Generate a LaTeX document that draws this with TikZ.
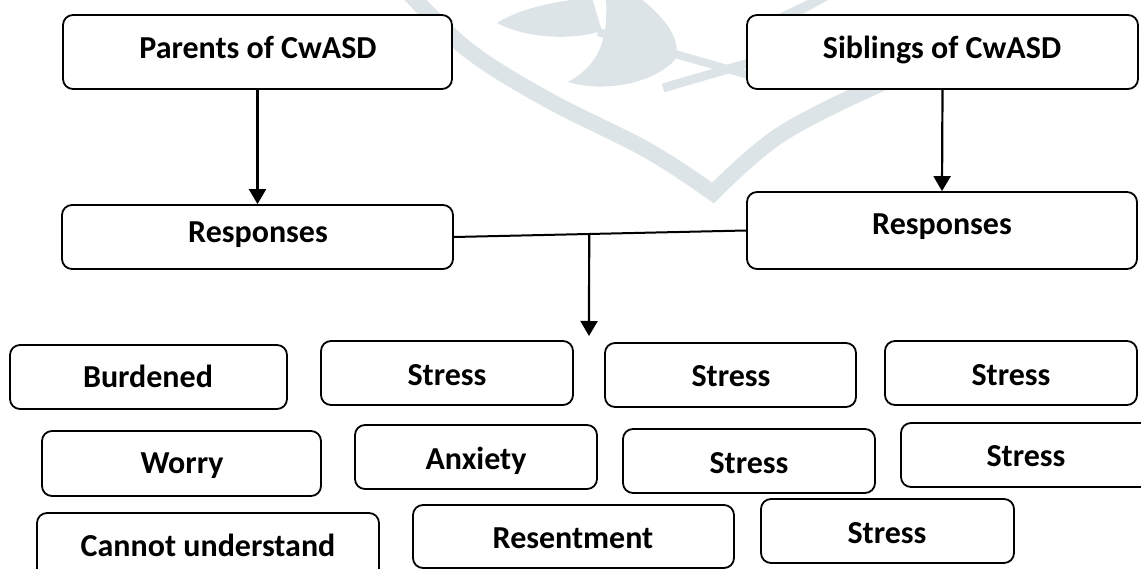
\documentclass[tikz,border=0pt]{standalone}
\usepackage{fontspec}
\setmainfont{Carlito}
\usetikzlibrary{arrows.meta,fit,calc}
\definecolor{wm}{RGB}{221,228,232}
\tikzset{
  box/.style={draw=black, line width=1.8pt, rounded corners=10pt, fill=white, inner sep=0pt},
  lbl/.style={font=\fontsize{32}{38}\selectfont\bfseries, anchor=base, inner sep=0pt},
  arr/.style={line width=2.2pt, -{Triangle[width=17pt,length=15pt]}},
  link/.style={line width=2pt},
  wmline/.style={draw=wm, line width=16pt},
}
\begin{document}
\begin{tikzpicture}[x=1pt,y=-1pt]
\useasboundingbox (0,0) rectangle (1141,569);
\begin{scope}
\clip (0,0) rectangle (1141,569);
% faint watermark
\draw[wmline, line join=miter] plot[smooth, tension=0.6] coordinates {(408,-8) (468,50) (548,100) (647,150) (713,193)}
  -- plot[smooth, tension=0.6] coordinates {(713,193) (780,135) (880,84) (940,62) (1010,40)};
\fill[wm] (497,23) .. controls (520,8) and (560,0) .. (592,-2) -- (602,31) .. controls (570,41) and (525,38) .. (497,23) -- cycle;
\fill[wm] (568,82) .. controls (600,64) and (608,40) .. (606,-2) -- (640,-2) .. controls (668,20) and (682,42) .. (675,60) .. controls (650,86) and (600,92) .. (568,82) -- cycle;
\draw[draw=wm, line width=8pt] (598,32) -- (752,76);
\draw[draw=wm, line width=9pt] (663,88) -- (752,62);
\fill[wm] (766,20) -- (780,26) -- (832,-2) -- (812,-2) -- cycle;
% boxes
\node[box, fit={(63,15) (452,89)}] (p) {};
\node[box, fit={(747,15) (1138,89)}] (s) {};
\node[box, fit={(62,205) (453,269)}] (rl) {};
\node[box, fit={(747,192) (1137,269)}] (rr) {};
\node[box, fit={(10,345) (287,409)}] (b1) {};
\node[box, fit={(321,341) (573,405)}] (b2) {};
\node[box, fit={(605,343) (856,407)}] (b3) {};
\node[box, fit={(885,341) (1137,405)}] (b4) {};
\node[box, fit={(42,431) (321,496)}] (b5) {};
\node[box, fit={(355,425) (597,489)}] (b6) {};
\node[box, fit={(623,429) (875,493)}] (b7) {};
\node[box, fit={(901,423) (1151,487)}] (b8) {};
\node[box, fit={(37,513) (379,578)}] (b9) {};
\node[box, fit={(413,505) (734,568)}] (b10) {};
\node[box, fit={(761,499) (1014,563)}] (b11) {};
% labels
\node[lbl] (tp) at (258,59) {Parents of CwASD};
\node[lbl] (ts) at (942,59) {Siblings of CwASD};
\node[lbl] (trl) at (258,243) {Responses};
\node[lbl] (trr) at (942,235) {Responses};
\node[lbl] (t1) at (148,388) {Burdened};
\node[lbl] (t2) at (447,385) {Stress};
\node[lbl] (t3) at (731,387) {Stress};
\node[lbl] (t4) at (1011,385) {Stress};
\node[lbl] (t5) at (182,473) {Worry};
\node[lbl] (t6) at (476,469) {Anxiety};
\node[lbl] (t7) at (749,473) {Stress};
\node[lbl] (t8) at (1026,466) {Stress};
\node[lbl] (t9) at (208,556) {Cannot understand};
\node[lbl] (t10) at (573,548) {Resentment};
\node[lbl] (t11) at (887,543) {Stress};
% connectors
\draw[arr] (p.south) -- (rl.north);
\draw[arr] (s.south) -- (rr.north);
\draw[link] (rl.east) -- (rr.west);
\coordinate (m) at ($(rl.east)!0.463!(rr.west)$);
\coordinate (tip) at (589,336);
\draw[arr] (m) -- (tip);
\end{scope}
\end{tikzpicture}
\end{document}
